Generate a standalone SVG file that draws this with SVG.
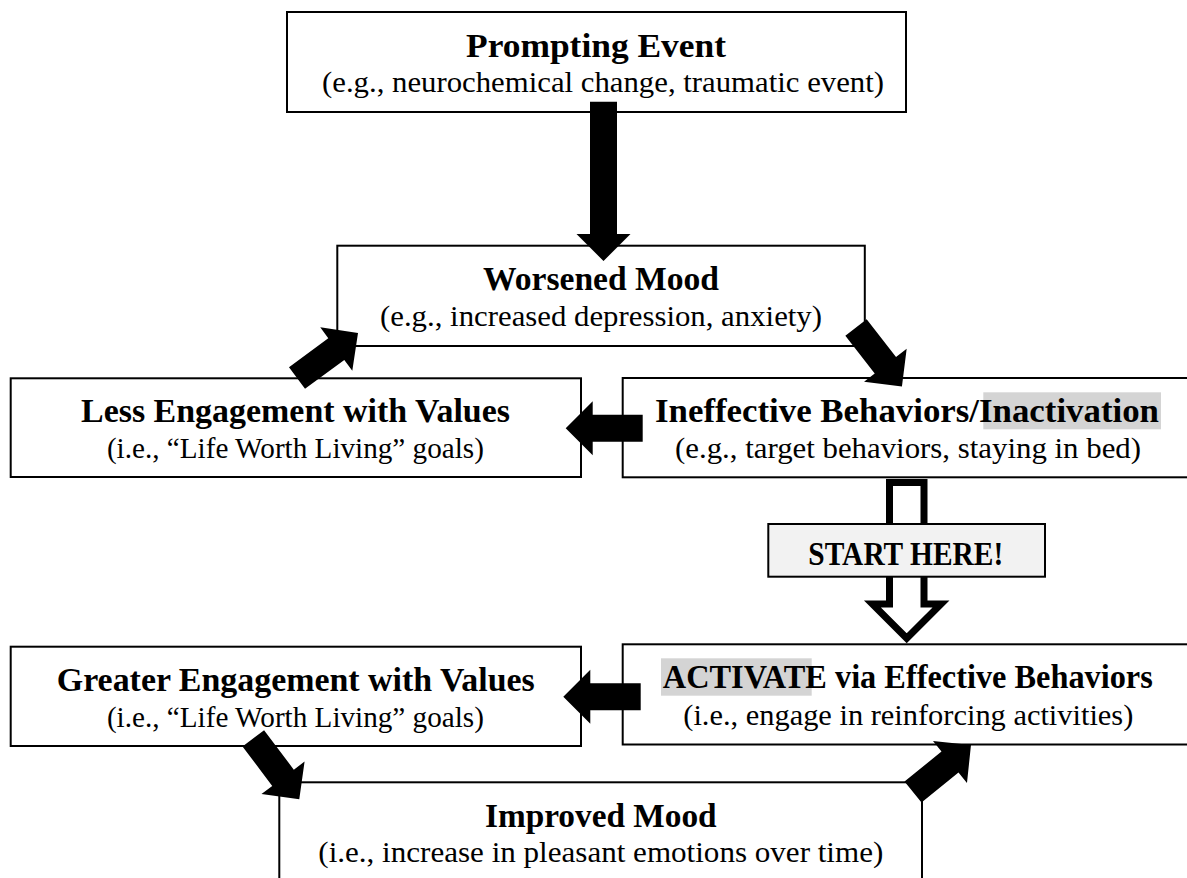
<svg xmlns="http://www.w3.org/2000/svg" width="1187" height="878" viewBox="0 0 1187 878">
<defs>
<style>
.box{fill:#fff;stroke:#000;stroke-width:2}
.t{font-family:"Liberation Serif","Times New Roman",serif;font-weight:bold;font-size:33px;fill:#000;text-anchor:middle}
.s{font-family:"Liberation Serif","Times New Roman",serif;font-size:29px;fill:#000;text-anchor:middle}
.hl{fill:#d4d4d4}
.arr{fill:#000}
</style>
</defs>
<rect x="0" y="0" width="1187" height="878" fill="#fff"/>
<g id="prompting">
<rect class="box" x="287" y="12" width="619" height="100"/>
<text class="t" x="596" y="57" textLength="260" lengthAdjust="spacingAndGlyphs">Prompting Event</text>
<text class="s" x="603" y="92" textLength="562" lengthAdjust="spacingAndGlyphs">(e.g., neurochemical change, traumatic event)</text>
</g>
<g id="worsened">
<rect class="box" x="337.3" y="245.7" width="527.5" height="100.3"/>
<text class="t" x="601" y="290" textLength="236" lengthAdjust="spacingAndGlyphs">Worsened Mood</text>
<text class="s" x="601" y="326" textLength="442" lengthAdjust="spacingAndGlyphs">(e.g., increased depression, anxiety)</text>
</g>
<g id="less">
<rect class="box" x="10.7" y="378.3" width="570.3" height="98.7"/>
<text class="t" x="295.5" y="421.7" textLength="429" lengthAdjust="spacingAndGlyphs">Less Engagement with Values</text>
<text class="s" x="295.4" y="457.7" textLength="377" lengthAdjust="spacingAndGlyphs">(i.e., “Life Worth Living” goals)</text>
</g>
<g id="ineffective">
<rect class="box" x="622.7" y="378" width="570" height="99.3"/>
<rect class="hl" x="983.3" y="392.3" width="177.7" height="37"/>
<text class="t" x="907" y="421.7" textLength="504" lengthAdjust="spacingAndGlyphs">Ineffective Behaviors/Inactivation</text>
<text class="s" x="908" y="458" textLength="466" lengthAdjust="spacingAndGlyphs">(e.g., target behaviors, staying in bed)</text>
</g>
<g id="greater">
<rect class="box" x="10.7" y="646.7" width="570.3" height="99.3"/>
<text class="t" x="295.8" y="691" textLength="478" lengthAdjust="spacingAndGlyphs">Greater Engagement with Values</text>
<text class="s" x="295.4" y="726.7" textLength="377" lengthAdjust="spacingAndGlyphs">(i.e., “Life Worth Living” goals)</text>
</g>
<g id="activate">
<rect class="box" x="622.7" y="644.3" width="570" height="100.2"/>
<rect class="hl" x="661" y="658.3" width="150.7" height="37.4"/>
<text class="t" x="907.8" y="688.3" textLength="490" lengthAdjust="spacingAndGlyphs">ACTIVATE via Effective Behaviors</text>
<text class="s" x="908.3" y="725" textLength="450" lengthAdjust="spacingAndGlyphs">(i.e., engage in reinforcing activities)</text>
</g>
<g id="improved">
<rect class="box" x="279.3" y="782.3" width="642.7" height="120"/>
<text class="t" x="600.8" y="826.7" textLength="231.7" lengthAdjust="spacingAndGlyphs">Improved Mood</text>
<text class="s" x="600.8" y="861.7" textLength="565" lengthAdjust="spacingAndGlyphs">(i.e., increase in pleasant emotions over time)</text>
</g>
<g id="connectors">
<path class="arr" transform="translate(603.5,101.7) rotate(90)" d="M0,-13.5H132.3V-27L159.3,0L132.3,27V13.5H0Z"/>
<path class="arr" transform="translate(856,327.5) rotate(52.1)" d="M0,-13.5H47.8V-27L74.8,0L47.8,27V13.5H0Z"/>
<path class="arr" transform="translate(297,378) rotate(-36.4)" d="M0,-13.5H48.8V-27L75.8,0L48.8,27V13.5H0Z"/>
<path class="arr" transform="translate(642.7,428.3) rotate(180)" d="M0,-13.5H50V-27L77,0L50,27V13.5H0Z"/>
<path class="arr" transform="translate(640.7,696.7) rotate(180)" d="M0,-13.5H50.4V-27L77.4,0L50.4,27V13.5H0Z"/>
<path class="arr" transform="translate(253.3,738.3) rotate(53)" d="M0,-13.5H49.4V-27L76.4,0L49.4,27V13.5H0Z"/>
<path class="arr" transform="translate(913,792) rotate(-39)" d="M0,-13.5H47.6V-27L74.6,0L47.6,27V13.5H0Z"/>
<polygon points="889.5,482.5 924,482.5 924,604 941,604 906.7,638.3 872.4,604 889.5,604" fill="#fff" stroke="#000" stroke-width="7" stroke-linejoin="miter"/>
</g>
<g id="start-here">
<rect x="768.3" y="524" width="276.7" height="52.7" fill="#f2f2f2" stroke="#000" stroke-width="2"/>
<text class="t" x="905.8" y="565" textLength="195" lengthAdjust="spacingAndGlyphs">START HERE!</text>
</g>
</svg>
